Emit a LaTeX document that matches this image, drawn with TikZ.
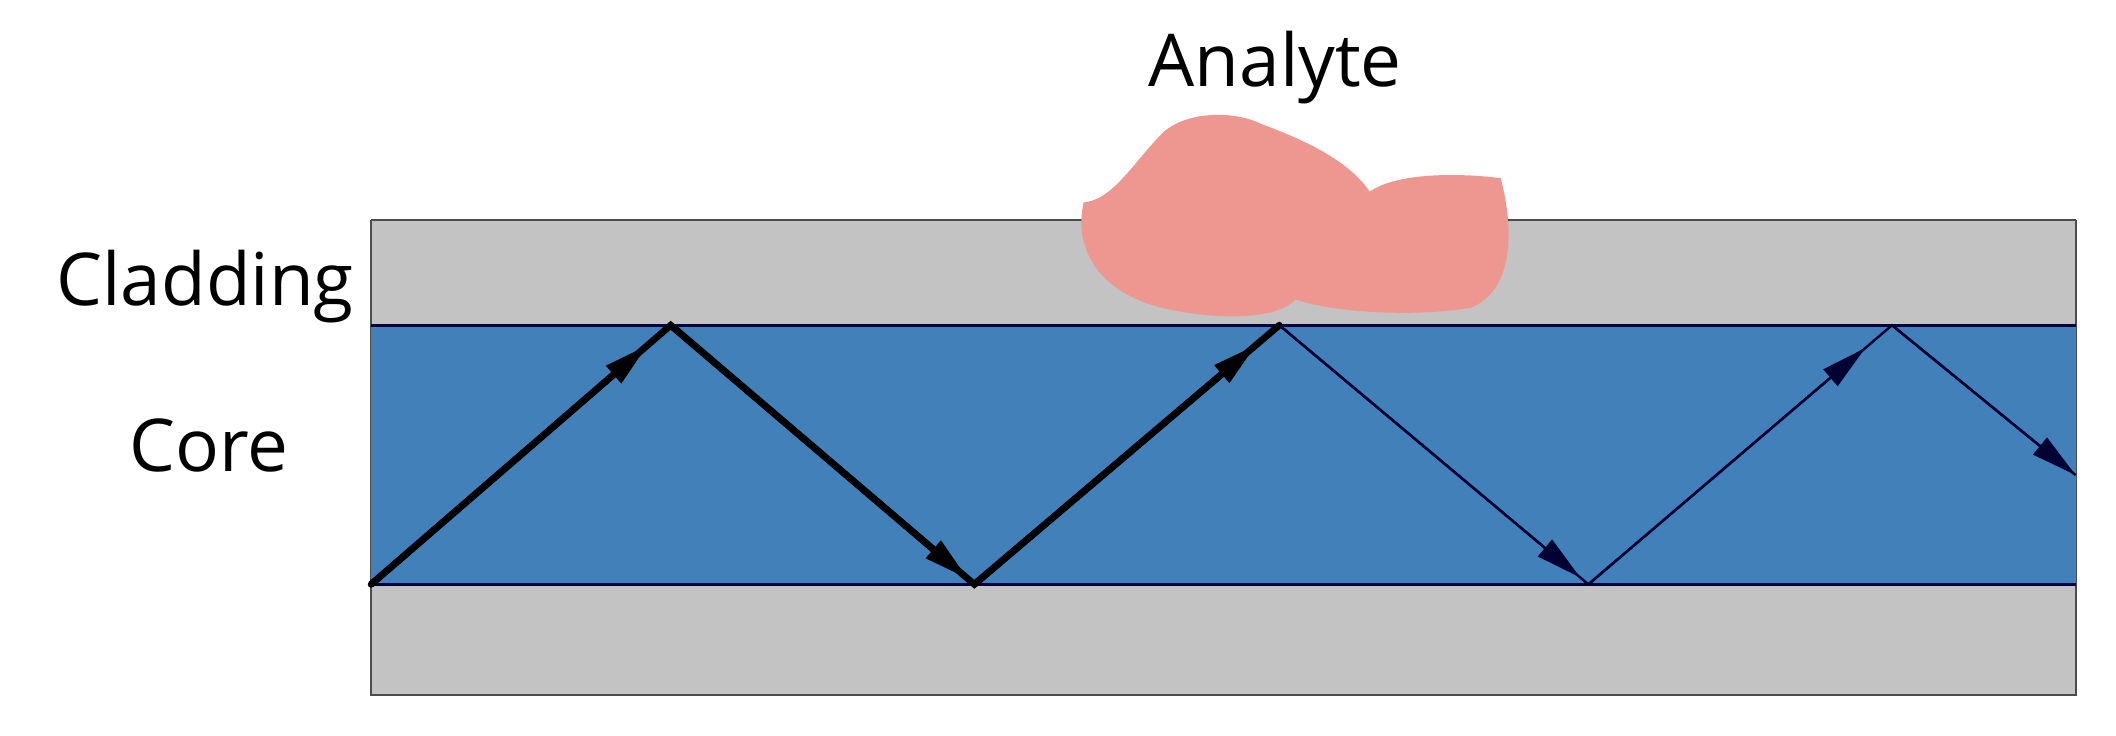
\documentclass[tikz,border=0pt]{standalone}
\usepackage{fontspec}
\setmainfont{Open Sans}
\usetikzlibrary{calc,arrows.meta}
\definecolor{clad}{HTML}{C3C3C3}
\definecolor{core}{HTML}{4180B9}
\definecolor{ana}{HTML}{EE9690}
\begin{document}
\begin{tikzpicture}[x=1pt,y=-1pt,
  lbl/.style={font=\fontsize{54}{60}\selectfont},
  thick ray/.style={line width=5pt},
  thin ray/.style={line width=1.8pt,color=black!80!blue},
  tip/.style={-{Triangle[length=34pt,width=16pt]}}]
\useasboundingbox (0,0) rectangle (1568,545);
\fill[clad] (275,163) rectangle (1538,515);
\draw[line width=2pt, black!70] (275,163) -- (1538,163);
\draw[line width=1.5pt, black!70] (275,163) -- (275,515) -- (1538,515) -- (1538,163);
\fill[core] (275,241) rectangle (1538,433);
\draw[line width=2.5pt, black!75!blue] (275,241) -- (1538,241);
\draw[line width=2.5pt, black!75!blue] (275,433) -- (1538,433);
% analyte
\fill[ana] (803,150) .. controls (825,148) and (840,120) .. (862,98)
  .. controls (880,82) and (915,82) .. (935,92)
  .. controls (970,105) and (1000,120) .. (1015,142)
  .. controls (1035,128) and (1080,128) .. (1112,132)
  .. controls (1122,170) and (1122,215) .. (1090,228)
  .. controls (1050,235) and (990,232) .. (960,222)
  .. controls (945,238) and (900,236) .. (870,230)
  .. controls (815,220) and (795,185) .. (803,150) -- cycle;
\node[lbl] (analyte) at (945,50) {Analyte};
\node[lbl] (cladding) at (152,212) {Cladding};
\node[lbl] (corel) at (155,330) {Core};
\coordinate (p0) at (275,433);
\coordinate (p1) at (497,241);
\coordinate (p2) at (722,433);
\coordinate (p3) at (948,241);
\coordinate (p4) at (1177,433);
\coordinate (p5) at (1402,241);
\coordinate (p6) at (1538,352);
\draw[thick ray, line cap=round] (p0) -- (p1) -- (p2) -- (p3);
\draw[thin ray] (p3) -- (p4) -- (p5) -- (p6);
\draw[thick ray, tip] (p0) -- ($(p1)!22pt!(p0)$);
\draw[thick ray, tip] (p1) -- ($(p2)!6pt!(p1)$);
\draw[thick ray, tip] (p2) -- ($(p3)!22pt!(p2)$);
\draw[thin ray, tip] (p3) -- ($(p4)!8pt!(p3)$);
\draw[thin ray, tip] (p4) -- ($(p5)!26pt!(p4)$);
\draw[thin ray, tip] (p5) -- (p6);
\end{tikzpicture}
\end{document}
